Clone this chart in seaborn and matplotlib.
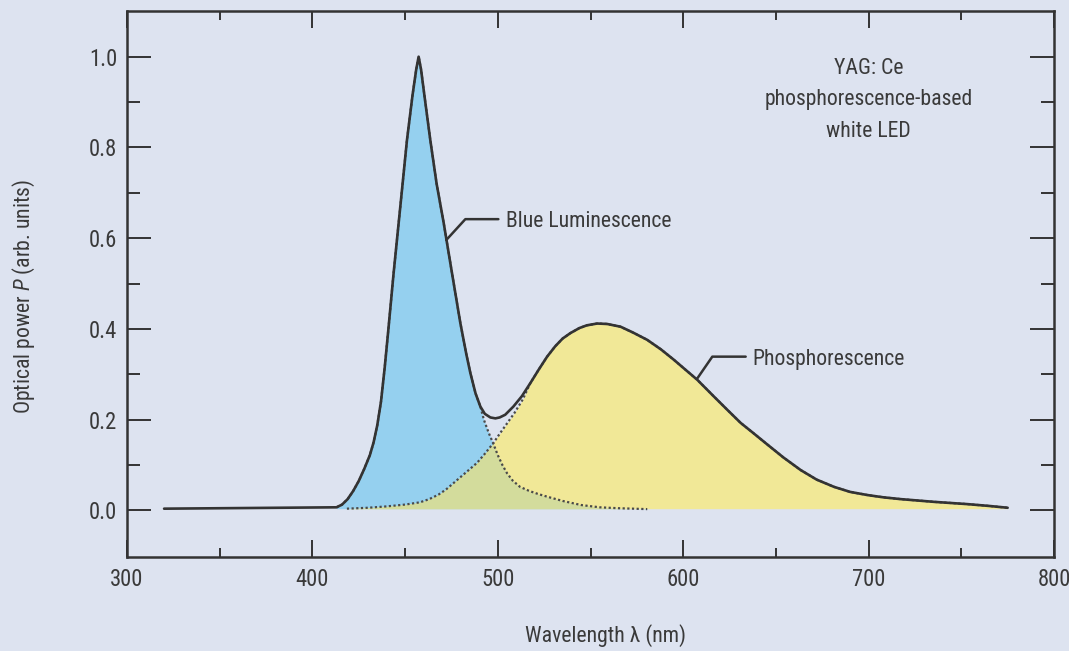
import numpy as np
import pandas as pd
import matplotlib
matplotlib.use("Agg")
import matplotlib.pyplot as plt
from matplotlib.ticker import FixedLocator
from matplotlib import font_manager as fm
import seaborn as sns

# ---- data ----
wl_total = [320, 413, 416, 419, 422, 425, 428, 431, 433, 435, 437, 439, 441, 443.8,
            447.4, 451, 454, 456, 457.3, 458.6, 460.5, 463.6, 467, 470.8, 475.3,
            479.8, 483, 485.2, 488, 490.6, 493, 496, 498.7, 501, 504, 508.4, 513,
            517.6, 522, 526.6, 531, 535, 539.2, 544, 548, 553.6, 559, 566.2, 573,
            580.6, 588, 595, 601, 607.6, 616.6, 624, 631, 638, 645.2, 654, 663.4,
            672, 681.4, 690, 699.4, 708, 717.4, 735.4, 753.4, 765, 775]
p_total = [0.004, 0.007, 0.013, 0.025, 0.043, 0.065, 0.092, 0.122, 0.150, 0.188, 0.240,
           0.315, 0.400, 0.523, 0.669, 0.816, 0.915, 0.972, 1.000, 0.972, 0.912,
           0.816, 0.720, 0.634, 0.523, 0.413, 0.345, 0.303, 0.258, 0.229, 0.213,
           0.205, 0.203, 0.205, 0.211, 0.229, 0.252, 0.281, 0.310, 0.339, 0.362,
           0.379, 0.391, 0.402, 0.408, 0.412, 0.411, 0.405, 0.392, 0.376, 0.355,
           0.332, 0.311, 0.288, 0.251, 0.221, 0.193, 0.170, 0.146, 0.117, 0.089,
           0.068, 0.052, 0.041, 0.034, 0.029, 0.025, 0.019, 0.014, 0.010, 0.006]

# blue luminescence component: follows the total curve up to ~490 nm, then this tail
wl_blue_tail = [492.5, 495, 497.5, 500, 502.5, 505, 508, 512, 517, 522, 527, 535,
                545, 555, 565, 580.6]
p_blue_tail = [0.200, 0.172, 0.148, 0.122, 0.100, 0.082, 0.066, 0.052, 0.043, 0.036,
               0.030, 0.021, 0.012, 0.007, 0.005, 0.003]

# phosphorescence component: this head, then follows the total curve from ~517 nm
wl_phos_head = [418.6, 430, 440, 450, 458, 463, 468, 472, 476, 480, 484, 488.8,
                493, 497.5, 501, 505, 509, 513.5]
p_phos_head = [0.004, 0.006, 0.009, 0.013, 0.018, 0.025, 0.035, 0.046, 0.060, 0.074,
               0.088, 0.105, 0.125, 0.148, 0.169, 0.192, 0.215, 0.245]

x_ticks = [300, 400, 500, 600, 700, 800]
y_ticks = [0.0, 0.2, 0.4, 0.6, 0.8, 1.0]

# ---- build tables ----
total = pd.DataFrame({"wl": wl_total, "p": p_total})
blue = pd.concat([total[(total.wl >= 413) & (total.wl <= 490.6)],
                  pd.DataFrame({"wl": wl_blue_tail, "p": p_blue_tail})], ignore_index=True)
phos = pd.concat([pd.DataFrame({"wl": wl_phos_head, "p": p_phos_head}),
                  total[total.wl >= 517]], ignore_index=True)

BG = "#dde3f0"
BLUE = "#95d0ef"
YELLOW = "#f1e897"
GREEN = "#d3dc9c"
INK = "#333333"
TXT = "#3a3a3a"

# ---- font: prefer a narrow sans, else Liberation Sans ----
names = {f.name for f in fm.fontManager.ttflist}
fam = None
for cand in ["Liberation Sans Narrow", "Roboto Condensed", "Open Sans Condensed",
             "DejaVu Sans Condensed", "Arial Narrow"]:
    if cand in names:
        fam = cand
        break
scale = 1.12 if fam else 1.0
if fam is None:
    fam = "Liberation Sans" if "Liberation Sans" in names else "DejaVu Sans"

sns.set_theme(style="ticks")
plt.rcParams["font.family"] = [fam, "DejaVu Sans"]
plt.rcParams["mathtext.fontset"] = "custom"
plt.rcParams["mathtext.rm"] = fam
plt.rcParams["mathtext.it"] = fam + ":italic"

FS = 14 * scale
TFS = 14.5 * scale

fig = plt.figure(figsize=(10.69, 6.51), dpi=100, facecolor=BG)
ax = fig.add_axes([127 / 1069, 1 - 557 / 651, 927 / 1069, 546 / 651])
ax.set_facecolor(BG)

base = 0.004
ax.fill_between(blue.wl, base, blue.p, color=BLUE, lw=0, zorder=1)
ax.fill_between(phos.wl, base, phos.p, color=YELLOW, lw=0, zorder=2)
grid = np.linspace(413, 775, 3000)
bi = np.interp(grid, blue.wl, blue.p, left=0, right=0)
pi = np.interp(grid, phos.wl, phos.p, left=0, right=0)
ax.fill_between(grid, base, np.maximum(np.minimum(bi, pi), base), color=GREEN, lw=0, zorder=3)

sns.lineplot(data=blue, x="wl", y="p", ax=ax, color="#4a4a4a", lw=1.6,
             linestyle=(0, (1, 1.1)), zorder=4)
sns.lineplot(data=phos, x="wl", y="p", ax=ax, color="#4a4a4a", lw=1.6,
             linestyle=(0, (1, 1.1)), zorder=4)
sns.lineplot(data=total, x="wl", y="p", ax=ax, color=INK, lw=1.9, zorder=5)

ax.set_xlim(300, 800)
ax.set_ylim(-0.1025, 1.1007)
ax.set_xticks(x_ticks)
ax.set_xticklabels([str(v) for v in x_ticks])
ax.set_yticks(y_ticks)
ax.set_yticklabels([f"{v:.1f}" for v in y_ticks])
ax.xaxis.set_minor_locator(FixedLocator([350, 450, 550, 650, 750]))
ax.yaxis.set_minor_locator(FixedLocator([0.1, 0.3, 0.5, 0.7, 0.9]))

ax.tick_params(axis="both", which="both", direction="in", top=True, right=True,
               color=INK, width=1.4, labelcolor=TXT, labelsize=TFS)
ax.tick_params(axis="y", which="major", length=17, pad=7)
ax.tick_params(axis="y", which="minor", length=9.5)
ax.tick_params(axis="x", which="major", length=12, pad=8)
ax.tick_params(axis="x", which="minor", length=6.5)
for s in ax.spines.values():
    s.set_linewidth(1.8)
    s.set_color(INK)

ax.set_xlabel("Wavelength λ (nm)", fontsize=FS, color=TXT)
ax.set_ylabel("Optical power $P$ (arb. units)", fontsize=FS, color=TXT)
ax.xaxis.set_label_coords(0.516, -0.122)
ax.yaxis.set_label_coords(-0.097, 0.478)

# annotations
ax.plot([472.2, 482.5, 500.3], [0.596, 0.642, 0.642], color=INK, lw=1.8, zorder=6)
ax.text(504.5, 0.636, "Blue Luminescence", fontsize=FS, color=TXT, va="center", ha="left")
ax.plot([607.6, 615.7, 633.7], [0.291, 0.339, 0.339], color=INK, lw=1.8, zorder=6)
ax.text(637.5, 0.333, "Phosphorescence", fontsize=FS, color=TXT, va="center", ha="left")
ax.text(700.1, 0.905, "YAG: Ce\nphosphorescence-based\nwhite LED", fontsize=FS,
        color=TXT, ha="center", va="center", linespacing=1.65)

fig.savefig("out.png", dpi=100, facecolor=BG)
